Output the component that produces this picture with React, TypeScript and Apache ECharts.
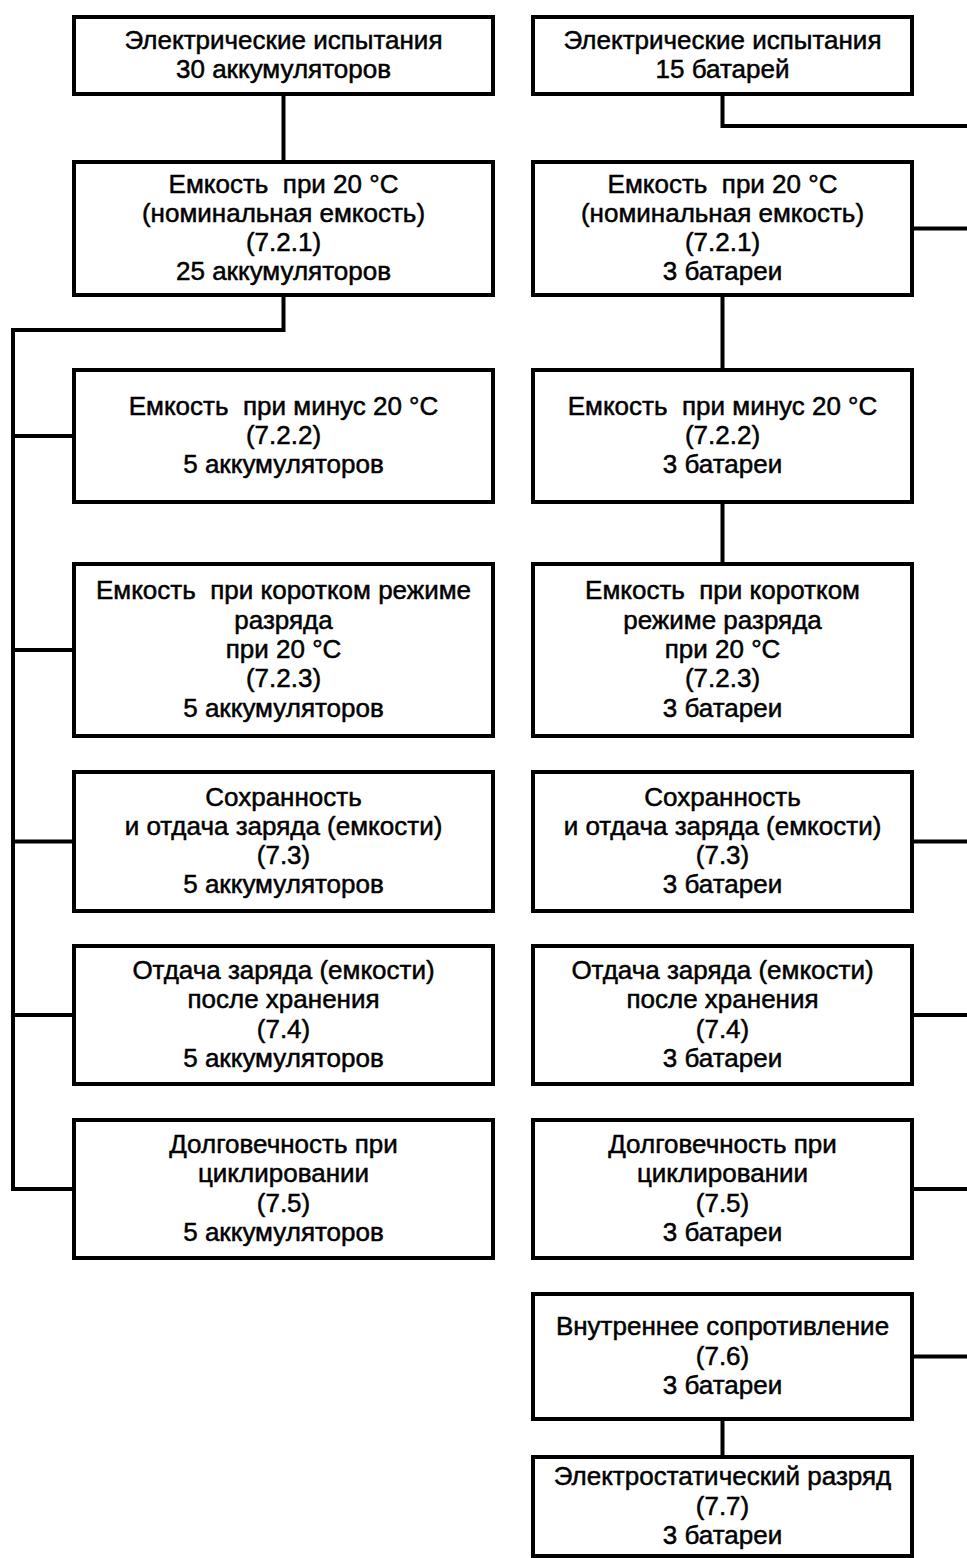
import React, { useEffect, useRef } from "react";
import * as echarts from "echarts";

// ---- Data: box texts ----
const leftLabels: string[] = [
  "Электрические испытания\n30 аккумуляторов",
  "Емкость  при 20 °С\n(номинальная емкость)\n(7.2.1)\n25 аккумуляторов",
  "Емкость  при минус 20 °С\n(7.2.2)\n5 аккумуляторов",
  "Емкость  при коротком режиме\nразряда\nпри 20 °С\n(7.2.3)\n5 аккумуляторов",
  "Сохранность\nи отдача заряда (емкости)\n(7.3)\n5 аккумуляторов",
  "Отдача заряда (емкости)\nпосле хранения\n(7.4)\n5 аккумуляторов",
  "Долговечность при\nциклировании\n(7.5)\n5 аккумуляторов",
];

const rightLabels: string[] = [
  "Электрические испытания\n15 батарей",
  "Емкость  при 20 °С\n(номинальная емкость)\n(7.2.1)\n3 батареи",
  "Емкость  при минус 20 °С\n(7.2.2)\n3 батареи",
  "Емкость  при коротком\nрежиме разряда\nпри 20 °С\n(7.2.3)\n3 батареи",
  "Сохранность\nи отдача заряда (емкости)\n(7.3)\n3 батареи",
  "Отдача заряда (емкости)\nпосле хранения\n(7.4)\n3 батареи",
  "Долговечность при\nциклировании\n(7.5)\n3 батареи",
  "Внутреннее сопротивление\n(7.6)\n3 батареи",
  "Электростатический разряд\n(7.7)\n3 батареи",
];

// right-column boxes that branch off to the right edge
const rightBranchRows: number[] = [4, 5, 6, 7];
// left-column boxes attached to the left bus
const leftBusRows: number[] = [2, 3, 4, 5, 6];

// ---- Layout ----
const W = 967;
const H = 1558;
const rowTop = [17, 162, 370, 564, 772, 946, 1120, 1294, 1457];
const rowBottom = [94, 295, 502, 736, 911, 1084, 1258, 1419, 1556];
const LEFT_X = 74;
const LEFT_W = 419;
const RIGHT_X = 533;
const RIGHT_W = 379;
const BUS_X = 13;
const LW = 4;
const FONT = '"Liberation Sans", Arial, sans-serif';

function boxElements(x: number, w: number, row: number, label: string) {
  const y = rowTop[row];
  const h = rowBottom[row] - y;
  return [
    {
      type: "rect",
      shape: { x, y, width: w, height: h },
      style: { fill: "#fff", stroke: "#000", lineWidth: LW },
      z: 1,
    },
    {
      type: "text",
      x: x + w / 2,
      y: y + h / 2 - 1,
      style: {
        text: label,
        fill: "#000",
        stroke: "#000",
        lineWidth: 0.5,
        fontSize: 26,
        fontFamily: FONT,
        lineHeight: 29.3,
        align: "center",
        verticalAlign: "middle",
        textAlign: "center",
        textVerticalAlign: "middle",
      },
      z: 2,
    },
  ];
}

function line(points: number[][]) {
  return {
    type: "polyline",
    shape: { points },
    style: { stroke: "#000", lineWidth: LW, fill: "none", lineJoin: "miter", lineCap: "butt" },
    z: 0,
  };
}

export default function App() {
  const ref = useRef<HTMLDivElement>(null);
  useEffect(() => {
    if (!ref.current) return;
    const chart = echarts.init(ref.current, undefined, { renderer: "svg" });
    const elements: any[] = [];
    const lcx = LEFT_X + LEFT_W / 2;
    const rcx = RIGHT_X + RIGHT_W / 2;
    const mid = (r: number) => (rowTop[r] + rowBottom[r]) / 2;

    // left connectors
    elements.push(line([[lcx, rowBottom[0]], [lcx, rowTop[1]]]));
    const lastLeft = leftBusRows[leftBusRows.length - 1];
    elements.push(
      line([
        [lcx, rowBottom[1]],
        [lcx, 330],
        [BUS_X, 330],
        [BUS_X, mid(lastLeft)],
        [LEFT_X, mid(lastLeft)],
      ])
    );
    leftBusRows.slice(0, -1).forEach((r) => elements.push(line([[BUS_X, mid(r)], [LEFT_X, mid(r)]])));

    // right connectors
    elements.push(line([[rcx, rowBottom[0]], [rcx, 126], [W + 5, 126]]));
    elements.push(line([[RIGHT_X + RIGHT_W, mid(1)], [W + 5, mid(1)]]));
    elements.push(line([[rcx, rowBottom[1]], [rcx, rowTop[2]]]));
    elements.push(line([[rcx, rowBottom[2]], [rcx, rowTop[3]]]));
    rightBranchRows.forEach((r) =>
      elements.push(line([[RIGHT_X + RIGHT_W, mid(r)], [W + 5, mid(r)]]))
    );
    elements.push(line([[rcx, rowBottom[7]], [rcx, rowTop[8]]]));

    leftLabels.forEach((t, i) => elements.push(...boxElements(LEFT_X, LEFT_W, i, t)));
    rightLabels.forEach((t, i) => elements.push(...boxElements(RIGHT_X, RIGHT_W, i, t)));

    chart.setOption({
      animation: false,
      backgroundColor: "#fff",
      graphic: { elements },
    });
    return () => chart.dispose();
  }, []);
  return (
    <div
      ref={ref}
      style={{ position: "absolute", left: 0, top: 0, width: W, height: H, background: "#fff" }}
    />
  );
}
